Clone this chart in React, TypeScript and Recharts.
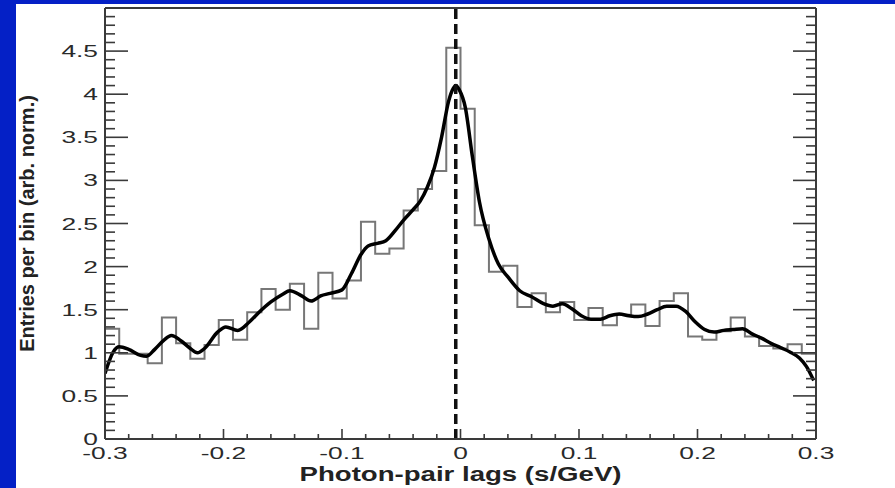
import React from "react";
import { ComposedChart, Line, XAxis, YAxis, ReferenceLine } from "recharts";

// histogram: 50 bins of 0.012 from -0.3 to 0.3
const binStart = -0.3;
const binWidth = 0.012;
const binValues = [
  1.28, 0.99, 0.99, 0.88, 1.41, 1.11, 0.93, 1.09, 1.38, 1.15,
  1.47, 1.74, 1.5, 1.8, 1.28, 1.93, 1.63, 1.84, 2.52, 2.15,
  2.21, 2.65, 2.9, 3.11, 4.54, 3.83, 2.48, 1.94, 2.01, 1.53,
  1.69, 1.47, 1.59, 1.38, 1.52, 1.32, 1.44, 1.56, 1.31, 1.6,
  1.69, 1.19, 1.15, 1.25, 1.41, 1.19, 1.08, 1.05, 1.1, 0.99,
];

// smoothed curve
const curveX = [
  -0.3, -0.293, -0.288, -0.28, -0.27, -0.265, -0.258, -0.25, -0.244, -0.236,
  -0.228, -0.222, -0.216, -0.205, -0.198, -0.188, -0.178, -0.17, -0.16, -0.15,
  -0.144, -0.134, -0.126, -0.118, -0.11, -0.1, -0.092, -0.084, -0.078, -0.07,
  -0.063, -0.055, -0.048, -0.04, -0.034, -0.028, -0.022, -0.016, -0.01, -0.006,
  -0.004, -0.001, 0.004, 0.01, 0.016, 0.024, 0.032, 0.04, 0.05, 0.06,
  0.07, 0.078, 0.086, 0.094, 0.102, 0.11, 0.118, 0.126, 0.134, 0.142,
  0.15, 0.158, 0.166, 0.174, 0.182, 0.19, 0.198, 0.206, 0.214, 0.222,
  0.23, 0.238, 0.246, 0.254, 0.262, 0.27, 0.278, 0.286, 0.292, 0.298,
];
const curveY = [
  0.76, 1.01, 1.07, 1.04, 0.97, 0.96, 1.04, 1.15, 1.2, 1.14,
  1.05, 1.0, 1.05, 1.24, 1.3, 1.26, 1.36, 1.47, 1.59, 1.68,
  1.72, 1.66, 1.6, 1.66, 1.69, 1.73, 1.92, 2.14, 2.24, 2.27,
  2.3, 2.42, 2.54, 2.66, 2.76, 2.92, 3.15, 3.5, 3.92, 4.07,
  4.1, 4.05, 3.85, 3.28, 2.75, 2.32, 2.03, 1.88, 1.72, 1.65,
  1.57, 1.54, 1.57, 1.51, 1.43, 1.39, 1.39, 1.43, 1.45, 1.43,
  1.42, 1.45, 1.5, 1.54, 1.54, 1.48, 1.36, 1.27, 1.24, 1.26,
  1.27, 1.28, 1.22, 1.17, 1.11, 1.06, 1.01, 0.94, 0.84, 0.68,
];

const xTicks = Array.from({ length: 31 }, (_, i) => Math.round((-0.3 + i * 0.02) * 1000) / 1000);
const yTicks = Array.from({ length: 50 }, (_, i) => i / 10);

const zeroMarker = -0.004;

const histData = [
  ...binValues.map((h, i) => ({ x: binStart + i * binWidth, h })),
  { x: 0.3, h: binValues[binValues.length - 1] },
];
const curveData = curveX.map((x, i) => ({ x, c: curveY[i] }));

const FONT = "'Liberation Sans', Arial, sans-serif";
const AXIS = "#3a3a3a";

const fmt = (v: number) => (Math.abs(v - Math.round(v)) < 1e-9 ? String(Math.round(v)) : v.toFixed(1));
const isMajorY = (v: number) => Math.round(v * 10) % 5 === 0;
const isMajorX = (v: number) => Math.round(v * 50) % 5 === 0;

const LeftTick = (props: any) => {
  const { x, y, payload } = props;
  const v = payload.value;
  const major = isMajorY(v);
  return (
    <g>
      <line x1={x} x2={x + (major ? 23 : 10)} y1={y} y2={y} stroke={AXIS} strokeWidth={1.6} />
      {major && (
        <text
          transform={`translate(${x - 7},${y + 6}) scale(1.55,1)`}
          textAnchor="end"
          fontSize={17}
          fontFamily={FONT}
          fill="#2a2a2a"
        >
          {fmt(v)}
        </text>
      )}
    </g>
  );
};

const RightTick = (props: any) => {
  const { x, y, payload } = props;
  const major = isMajorY(payload.value);
  return <line x1={x} x2={x - (major ? 23 : 10)} y1={y} y2={y} stroke={AXIS} strokeWidth={1.6} />;
};

const BottomTick = (props: any) => {
  const { x, y, payload } = props;
  const v = payload.value;
  const major = isMajorX(v);
  return (
    <g>
      <line x1={x} x2={x} y1={y} y2={y - (major ? 10 : 5)} stroke={AXIS} strokeWidth={1.6} />
      {major && (
        <text
          transform={`translate(${x},${y + 20}) scale(1.55,1)`}
          textAnchor="middle"
          fontSize={17}
          fontFamily={FONT}
          fill="#2a2a2a"
        >
          {fmt(v)}
        </text>
      )}
    </g>
  );
};

const TopTick = (props: any) => {
  const { x, y, payload } = props;
  const major = isMajorX(payload.value);
  return <line x1={x} x2={x} y1={y} y2={y + (major ? 10 : 4)} stroke={AXIS} strokeWidth={1.6} />;
};

export default function App() {
  return (
    <div style={{ position: "absolute", left: 0, top: 0, width: 895, height: 488, background: "#fff", overflow: "hidden" }}>
      <div style={{ position: "absolute", left: 0, top: 0, width: 16, height: 488, background: "#0420c6" }} />
      <div style={{ position: "absolute", left: 0, top: 0, width: 895, height: 4, background: "#0420c6" }} />
      <div style={{ position: "absolute", left: 0, top: 0 }}>
        <ComposedChart width={895} height={488} margin={{ top: 0, right: 0, bottom: 0, left: 0 }}>
          <XAxis
            dataKey="x"
            type="number"
            domain={[-0.3, 0.3]}
            allowDataOverflow
            ticks={xTicks}
            interval={0}
            height={49}
            tickSize={0}
            tickMargin={0}
            tick={BottomTick}
            axisLine={{ stroke: AXIS, strokeWidth: 2 }}
            label={{
              content: (p: any) => {
                const vb = p.viewBox;
                return (
                  <text
                    transform={`translate(${vb.x + vb.width / 2},${vb.y + 42}) scale(1.38,1)`}
                    textAnchor="middle"
                    fontSize={20}
                    fontWeight="bold"
                    fontFamily={FONT}
                    fill="#222"
                  >
                    Photon-pair lags (s/GeV)
                  </text>
                );
              },
            }}
          />
          <XAxis
            xAxisId="top"
            orientation="top"
            type="number"
            domain={[-0.3, 0.3]}
            allowDataOverflow
            ticks={xTicks}
            interval={0}
            height={8}
            tickSize={0}
            tickMargin={0}
            tick={TopTick}
            axisLine={{ stroke: AXIS, strokeWidth: 2 }}
          />
          <YAxis
            type="number"
            domain={[0, 5]}
            allowDataOverflow
            ticks={yTicks}
            interval={0}
            width={105}
            tickSize={0}
            tickMargin={0}
            tick={LeftTick}
            axisLine={{ stroke: AXIS, strokeWidth: 2 }}
            label={{
              content: (p: any) => {
                const vb = p.viewBox;
                return (
                  <text
                    transform={`translate(${34},${vb.y + vb.height / 2}) rotate(-90)`}
                    textAnchor="middle"
                    fontSize={20}
                    fontWeight="bold"
                    fontFamily={FONT}
                    fill="#222"
                  >
                    Entries per bin (arb. norm.)
                  </text>
                );
              },
            }}
          />
          <YAxis
            yAxisId="right"
            orientation="right"
            type="number"
            domain={[0, 5]}
            allowDataOverflow
            ticks={yTicks}
            interval={0}
            width={79}
            tickSize={0}
            tickMargin={0}
            tick={RightTick}
            axisLine={{ stroke: AXIS, strokeWidth: 2 }}
          />
          <Line
            data={histData}
            dataKey="h"
            type="stepAfter"
            stroke="#777"
            strokeWidth={2}
            dot={false}
            activeDot={false}
            isAnimationActive={false}
          />
          <Line
            data={curveData}
            dataKey="c"
            type="monotone"
            stroke="#000"
            strokeWidth={3.5}
            dot={false}
            activeDot={false}
            isAnimationActive={false}
          />
          <ReferenceLine x={zeroMarker} stroke="#111" strokeWidth={3.5} strokeDasharray="10 5" />
        </ComposedChart>
      </div>
    </div>
  );
}
